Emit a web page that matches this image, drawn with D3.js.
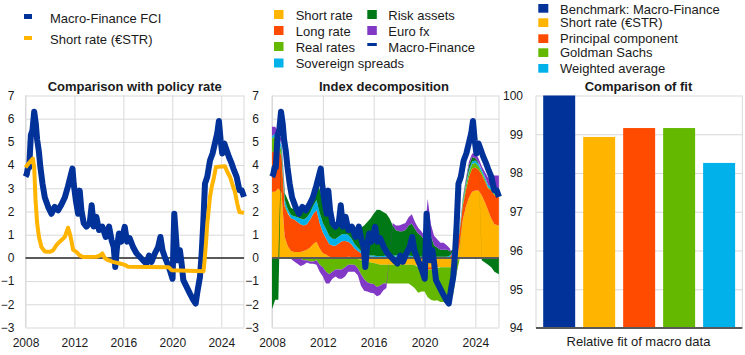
<!DOCTYPE html>
<html><head><meta charset="utf-8">
<script src="https://cdn.jsdelivr.net/npm/d3@7"></script>
<style>
body{margin:0;background:#fff;}
text{font-family:"Liberation Sans",Arial,sans-serif;fill:#1a1a1a;}
</style></head>
<body><svg id="c" width="745" height="355"></svg>
<script>
// ---------- DATA ----------
const fciDates = [2008.00,2008.10,2008.20,2008.30,2008.44,2008.57,2008.71,2008.84,2008.95,2009.09,2009.22,2009.39,2009.58,2009.85,2010.12,2010.39,2010.67,2010.94,2011.21,2011.48,2011.67,2011.84,2011.94,2012.11,2012.30,2012.43,2012.57,2012.76,2012.98,2013.25,2013.41,2013.58,2013.79,2014.01,2014.28,2014.56,2014.83,2015.04,2015.21,2015.34,2015.48,2015.64,2015.83,2016.11,2016.30,2016.51,2016.79,2017.07,2017.34,2017.60,2017.88,2018.10,2018.30,2018.57,2018.84,2019.03,2019.20,2019.41,2019.60,2019.80,2020.02,2020.16,2020.30,2020.43,2020.62,2020.76,2020.90,2021.17,2021.44,2021.72,2021.91,2022.07,2022.26,2022.40,2022.53,2022.67,2022.86,2023.08,2023.29,2023.48,2023.67,2023.81,2023.95,2024.08,2024.25,2024.44,2024.63,2024.85,2025.04,2025.26,2025.48,2025.67,2025.86];
const fciValues = [3.5,3.6,3.9,3.9,5.3,5.5,6.3,5.8,5.1,4.6,3.9,3.2,2.6,2.2,1.9,2.2,2.05,2.3,2.6,3.1,3.5,3.85,3.2,2.5,1.9,2.9,2.05,1.5,1.35,1.5,2.27,1.35,1.77,1.2,1.35,0.9,1.35,0.76,0.47,-0.39,0.47,1.05,0.7,1.34,0.7,0.85,0.47,0.2,0.05,-0.1,-0.24,0.1,-0.17,0.19,0.47,0.9,0.33,0.0,-0.24,-0.53,-0.9,1.9,0.9,-0.1,0.33,-0.24,-0.96,-1.25,-1.54,-1.82,-1.97,-1.4,-0.82,0.19,1.48,3.2,3.5,4.2,4.5,4.93,5.36,5.9,5.07,4.5,4.93,4.64,4.35,4.07,3.78,3.49,2.92,2.92,2.63];

const strDates = [2008.00,2008.30,2008.60,2008.71,2008.82,2008.95,2009.10,2009.30,2009.58,2009.99,2010.26,2010.53,2010.80,2011.21,2011.48,2011.62,2011.75,2011.89,2012.16,2012.43,2012.70,2013.79,2014.07,2014.28,2014.47,2014.75,2015.15,2015.70,2016.11,2016.38,2019.70,2019.94,2022.55,2022.64,2022.75,2022.86,2022.97,2023.08,2023.22,2023.41,2023.57,2024.30,2024.50,2024.72,2024.93,2025.12,2025.31,2025.48,2025.86];
const strValues = [3.9,4.1,4.28,3.9,2.5,1.5,0.9,0.47,0.28,0.26,0.33,0.55,0.7,0.9,1.3,1.05,0.75,0.35,0.26,0.11,0.04,0.05,0.1,0.19,0.0,-0.1,-0.17,-0.24,-0.3,-0.38,-0.4,-0.53,-0.58,-0.1,0.62,1.48,2.05,2.63,3.06,3.49,3.92,3.95,3.7,3.49,3.13,2.85,2.34,1.98,1.94];

const decompDates = [2008.00,2008.25,2008.50,2008.75,2009.00,2009.25,2009.50,2009.75,2010.00,2010.25,2010.50,2010.75,2011.00,2011.25,2011.50,2011.75,2012.00,2012.25,2012.50,2012.75,2013.00,2013.25,2013.50,2013.75,2014.00,2014.25,2014.50,2014.75,2015.00,2015.25,2015.50,2015.75,2016.00,2016.25,2016.50,2016.75,2017.00,2017.25,2017.50,2017.75,2018.00,2018.25,2018.50,2018.75,2019.00,2019.25,2019.50,2019.75,2020.00,2020.25,2020.50,2020.75,2021.00,2021.25,2021.50,2021.75,2022.00,2022.25,2022.50,2022.75,2023.00,2023.25,2023.50,2023.75,2024.00,2024.25,2024.50,2024.75,2025.00,2025.25,2025.50,2025.85];
const shortRate = [2.85,2.85,3.0,2.8, 0.9,0.5,0.3,0.25, 0.25,0.25,0.3,0.35, 0.45,0.6,0.7,0.4, 0.2,0.15,0.05,0.03, 0.02,0.02,0.02,0.03, 0.05,0.04,0.0,-0.05, -0.1,-0.12,-0.15,-0.2, -0.22,-0.25,-0.3,-0.3, -0.3,-0.3,-0.3,-0.3, -0.3,-0.3,-0.3,-0.3, -0.3,-0.32,-0.35,-0.4, -0.4,-0.4,-0.4,-0.4, -0.4,-0.4,-0.4,-0.4, -0.4,-0.4,-0.2,0.5, 1.6,2.2,2.6,2.85, 2.9,2.9,2.7,2.4, 2.05,1.7,1.45,1.4];
const longRate = [1.7,1.8,1.7,1.6, 1.3,1.4,1.4,1.4, 1.3,1.2,1.1,1.1, 1.2,1.3,1.35,1.1, 0.9,0.7,0.55,0.5, 0.5,0.6,0.7,0.7, 0.65,0.55,0.4,0.3, 0.2,0.1,0.1,0.05, 0.05,0.03,0.02,0.03, 0.05,0.05,0.05,0.05, 0.1,0.1,0.05,0.05, 0.03,0.0,-0.05,-0.05, -0.05,-0.1,-0.1,-0.05, -0.03,0.0,0.0,0.0, 0.05,0.2,0.4,0.6, 0.6,0.7,0.9,1.0, 1.0,0.9,0.9,0.9, 0.95,1.2,1.25,1.2];
const realRates = [0.6,0.6,0.4,0.2, 0.1,0.05,0.0,-0.05, -0.05,-0.05,-0.1,-0.1, -0.15,-0.15,-0.1,-0.3, -0.4,-0.6,-0.7,-0.6, -0.5,-0.5,-0.5,-0.4, -0.3,-0.3,-0.3,-0.4, -0.6,-0.8,-0.9,-0.9, -0.9,-1.0,-0.9,-0.8, -0.8,-0.8,-0.8,-0.8, -0.8,-0.8,-0.8,-0.8, -0.9,-1.0,-1.1,-1.0, -1.0,-1.2,-1.3,-1.4, -1.4,-1.5,-1.5,-1.6, -1.5,-1.2,-0.5,-0.1, 0.1,0.2,0.2,0.2, 0.2,0.15,0.1,0.1, 0.05,0.05,0.05,0.05];
const sovSpreads = [0.1,0.1,0.15,0.2, 0.2,0.15,0.15,0.15, 0.2,0.25,0.25,0.3, 0.3,0.35,0.45,0.45, 0.4,0.4,0.35,0.3, 0.3,0.3,0.3,0.3, 0.3,0.25,0.2,0.15, 0.1,0.1,0.05,0.05, 0.05,0.05,0.05,0.05, 0.05,0.05,0.05,0.05, 0.05,0.05,0.05,0.05, 0.05,0.05,0.05,0.05, 0.05,0.05,0.05,0.05, 0.05,0.05,0.05,0.05, 0.05,0.05,0.1,0.1, 0.1,0.1,0.1,0.1, 0.1,0.1,0.1,0.1, 0.1,0.1,0.1,0.1];
const riskAssets = [-2.2,-1.8,-1.8,0.1, 0.3,0.4,0.3,0.3, 0.3,0.35,0.4,0.4, 0.4,0.5,0.8,1.0, 1.0,0.9,0.8,0.8, 0.7,0.6,0.6,0.6, 0.5,0.5,0.6,0.8, 1.0,1.2,1.4,1.6, 1.8,2.0,2.0,1.9, 1.8,1.6,1.3,1.1, 1.0,1.0,1.1,1.3, 1.4,1.2,1.0,0.9, 0.7,1.6,0.9,0.5, 0.4,0.3,0.3,0.3, 0.2,0.1,0.05,0.05, 0.1,0.1,0.2,0.2, 0.1,0.05,-0.1,-0.2, -0.3,-0.4,-0.6,-0.7];
const euroFx = [0.4,0.3,0.2,0.2, 0.1,0.0,-0.05,-0.1, -0.2,-0.3,-0.2,-0.1, -0.1,-0.1,-0.2,-0.3, -0.4,-0.5,-0.4,-0.3, -0.3,-0.4,-0.4,-0.4, -0.3,-0.3,-0.3,-0.3, -0.5,-0.5,-0.4,-0.4, -0.4,-0.4,-0.4,-0.3, -0.2,0.0,0.1,0.2, 0.25,0.3,0.3,0.35, 0.4,0.3,0.25,0.2, 0.2,0.9,0.5,0.4, 0.35,0.3,0.3,0.2, 0.1,0.0,-0.05,0.0, 0.05,0.1,0.15,0.15, 0.2,0.2,0.15,0.2, 0.3,0.5,0.7,0.8];

const fitCategories = ["Benchmark: Macro-Finance","Short rate (€STR)","Principal component","Goldman Sachs","Weighted average"];
const fitValues = [100, 98.93, 99.16, 99.16, 98.26];

const yTicksLR = [-3,-2,-1,0,1,2,3,4,5,6,7];
const xTickYears = [2008,2012,2016,2020,2024];
const yTicksFit = [94,95,96,97,98,99,100];

// ---------- STYLE ----------
const C = {navy:"#003299", yellow:"#ffb400", orange:"#ff4b00", lgreen:"#65b800", cyan:"#00b1ea", dgreen:"#007816", purple:"#8139c6", grid:"#d9d9d9", zero:"#595959"};
const svg = d3.select("#c");
const TOP = 95.5, BOT = 327.5;
const FONT = "Liberation Sans, Arial, sans-serif";

function gridPanel(x, y, x0, x1, yTicks, xTicks) {
  const g = svg.append("g");
  g.append("g").attr("transform",`translate(${x0},0)`)
    .call(d3.axisLeft(y).tickValues(yTicks).tickSize(-(x1-x0)).tickFormat(""))
    .call(a=>{a.select(".domain").remove(); a.selectAll("line").attr("stroke",C.grid);});
  if (xTicks) {
    g.append("g").attr("transform",`translate(0,${TOP})`)
      .call(d3.axisBottom(x).tickValues(xTicks).tickSize(y.range()[0]-TOP).tickFormat(""))
      .call(a=>{a.select(".domain").remove(); a.selectAll("line").attr("stroke",C.grid);});
  }
  g.append("line").attr("x1",x0).attr("x2",x0).attr("y1",TOP).attr("y2",y.range()[0]).attr("stroke",C.grid);
  g.append("line").attr("x1",x1).attr("x2",x1).attr("y1",TOP).attr("y2",y.range()[0]).attr("stroke",C.grid);
}
function yLabels(y, x0, pad, ticks) {
  svg.append("g").attr("transform",`translate(${x0},0)`)
    .call(d3.axisLeft(y).tickValues(ticks).tickFormat(d3.format("d")).tickSize(0).tickPadding(pad))
    .call(a=>{a.select(".domain").remove(); a.selectAll("text").attr("font-size",12).attr("font-family",FONT).attr("fill","#1a1a1a");});
}
function xLabels(x) {
  svg.append("g").attr("transform",`translate(0,${BOT})`)
    .call(d3.axisBottom(x).tickValues(xTickYears).tickFormat(d3.format("d")).tickSize(0).tickPadding(10.5))
    .call(a=>{a.select(".domain").remove(); a.selectAll("text").attr("font-size",12).attr("font-family",FONT).attr("fill","#1a1a1a");});
}
function title(t, cx) {
  svg.append("text").attr("x",cx).attr("y",91).attr("text-anchor","middle")
    .attr("font-size",13).attr("font-weight","bold").text(t);
}

// ---------- LEFT PANEL ----------
const xL = d3.scaleLinear().domain([2008, 2025.86]).range([25.5, 244]);
const yL = d3.scaleLinear().domain([-3, 7]).range([BOT, TOP]);
gridPanel(xL, yL, 25.5, 244, yTicksLR, xTickYears);
svg.append("line").attr("x1",25.5).attr("x2",244).attr("y1",yL(0)).attr("y2",yL(0)).attr("stroke",C.zero).attr("stroke-width",2);
const fciData = fciDates.map((d,i)=>({t:d, v:fciValues[i]}));
const strData = strDates.map((d,i)=>({t:d, v:strValues[i]}));
svg.append("path").datum(fciData).attr("fill","none").attr("stroke",C.navy).attr("stroke-width",6).attr("stroke-linejoin","round")
  .attr("d", d3.line().x(d=>xL(d.t)).y(d=>yL(d.v)));
svg.append("path").datum(strData).attr("fill","none").attr("stroke",C.yellow).attr("stroke-width",4).attr("stroke-linejoin","round")
  .attr("d", d3.line().x(d=>xL(d.t)).y(d=>yL(d.v)));
yLabels(yL, 25.5, 11, yTicksLR);
xLabels(xL);
title("Comparison with policy rate", 134.7);

// legend left
svg.append("rect").attr("x",24).attr("y",14).attr("width",8).attr("height",5).attr("fill",C.navy);
svg.append("text").attr("x",50).attr("y",22.5).attr("font-size",13).text("Macro-Finance FCI");
svg.append("rect").attr("x",24).attr("y",36).attr("width",8).attr("height",4).attr("fill",C.yellow);
svg.append("text").attr("x",50).attr("y",43.8).attr("font-size",13).text("Short rate (€STR)");

// ---------- MIDDLE PANEL ----------
const xM = d3.scaleLinear().domain([2008, 2025.86]).range([272, 499]);
const yM = d3.scaleLinear().domain([-3, 7]).range([BOT, TOP]);
gridPanel(xM, yM, 272, 499, yTicksLR, xTickYears);
const keys = ["short","long","real","sov","risk","fx"];
const keyColor = {short:C.yellow,long:C.orange,real:C.lgreen,sov:C.cyan,risk:C.dgreen,fx:C.purple};
const table = decompDates.map((t,i)=>({t, short:shortRate[i], long:longRate[i], real:realRates[i], sov:sovSpreads[i], risk:riskAssets[i], fx:euroFx[i]}));
const series = d3.stack().keys(keys).offset(d3.stackOffsetDiverging)(table);
const area = d3.area().x(d=>xM(d.data.t)).y0(d=>yM(d[0])).y1(d=>yM(d[1]));
svg.append("g").selectAll("path").data(series).join("path")
  .attr("fill",d=>keyColor[d.key]).attr("d",area);
svg.append("line").attr("x1",272).attr("x2",499).attr("y1",yM(0)).attr("y2",yM(0)).attr("stroke",C.zero).attr("stroke-width",2);
svg.append("path").datum(fciData).attr("fill","none").attr("stroke",C.navy).attr("stroke-width",6).attr("stroke-linejoin","round")
  .attr("d", d3.line().x(d=>xM(d.t)).y(d=>yM(d.v)));
yLabels(yM, 272, 13, yTicksLR);
xLabels(xM);
title("Index decomposition", 384);

// legend middle
const midLeg = [
  {k:"Short rate", c:C.yellow, col:0, row:0},
  {k:"Long rate", c:C.orange, col:0, row:1},
  {k:"Real rates", c:C.lgreen, col:0, row:2},
  {k:"Sovereign spreads", c:C.cyan, col:0, row:3},
  {k:"Risk assets", c:C.dgreen, col:1, row:0},
  {k:"Euro fx", c:C.purple, col:1, row:1},
  {k:"Macro-Finance", c:C.navy, col:1, row:2, line:true}
];
const rowY = [19.5, 35.5, 51.5, 68];
midLeg.forEach(d=>{
  const sx = d.col===0 ? 274 : 367.3;
  const tx = d.col===0 ? 295.7 : 388.3;
  const by = rowY[d.row];
  if (d.line) svg.append("rect").attr("x",sx).attr("y",by-8.5).attr("width",9.5).attr("height",3).attr("fill",d.c);
  else svg.append("rect").attr("x",sx).attr("y",by-9.5).attr("width",9.5).attr("height",9).attr("fill",d.c);
  svg.append("text").attr("x",tx).attr("y",by).attr("font-size",13).text(d.k);
});

// ---------- RIGHT PANEL ----------
const xR = d3.scaleBand().domain(fitCategories).range([536, 742.3]).paddingInner(0.2).paddingOuter(0.18);
const yR = d3.scaleLinear().domain([94, 100]).range([328, 95.5]);
svg.append("g").attr("transform","translate(536,0)")
  .call(d3.axisLeft(yR).tickValues(yTicksFit).tickSize(-(742.3-536)).tickFormat(""))
  .call(a=>{a.select(".domain").remove(); a.selectAll("line").attr("stroke",C.grid);});
svg.append("line").attr("x1",536).attr("x2",536).attr("y1",95.5).attr("y2",328).attr("stroke",C.grid);
svg.append("line").attr("x1",742.3).attr("x2",742.3).attr("y1",95.5).attr("y2",328).attr("stroke",C.grid);
const barColors = [C.navy, C.yellow, C.orange, C.lgreen, C.cyan];
svg.append("g").selectAll("rect").data(fitValues).join("rect")
  .attr("x",(d,i)=>xR(fitCategories[i])).attr("width",xR.bandwidth())
  .attr("y",d=>yR(d)).attr("height",d=>yR(94)-yR(d))
  .attr("fill",(d,i)=>barColors[i]);
svg.append("line").attr("x1",536).attr("x2",742.3).attr("y1",yR(94)).attr("y2",yR(94)).attr("stroke",C.zero).attr("stroke-width",2);
yLabels(yR, 536, 13, yTicksFit);
svg.append("text").attr("x",638.5).attr("y",346).attr("text-anchor","middle").attr("font-size",13).text("Relative fit of macro data");
title("Comparison of fit", 638.5);

// legend right
const rLegY = [13.5, 27, 42.5, 57, 72.5];
const rSwY = [4, 18.3, 34.3, 48.3, 64];
fitCategories.forEach((k,i)=>{
  svg.append("rect").attr("x",538.3).attr("y",rSwY[i]).attr("width",10).attr("height",8.7).attr("fill",barColors[i]);
  svg.append("text").attr("x",560).attr("y",rLegY[i]).attr("font-size",13).text(k);
});
</script></body></html>
